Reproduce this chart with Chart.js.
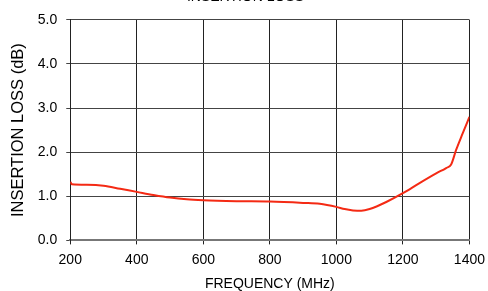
<!DOCTYPE html>
<html>
<head>
<meta charset="utf-8">
<script src="https://cdn.jsdelivr.net/npm/chart.js@4"></script>
<style>
  html, body { margin: 0; padding: 0; background: #fff; overflow: hidden; }
  #wrap { position: relative; width: 492px; height: 304px; margin-top: -11px; }
</style>
</head>
<body>
<div id="wrap"><canvas id="grafico"></canvas></div>
<script>
// frequency in MHz, insertion loss in dB
const frequency = [200, 205, 250, 300, 350, 400, 450, 500, 550, 600, 700, 800, 900, 950, 1000, 1025, 1050, 1075, 1100, 1150, 1200, 1250, 1300, 1330, 1345, 1360, 1380, 1400];
const loss = [1.33, 1.27, 1.26, 1.24, 1.17, 1.10, 1.03, 0.97, 0.93, 0.91, 0.89, 0.88, 0.85, 0.83, 0.76, 0.71, 0.68, 0.67, 0.71, 0.87, 1.07, 1.30, 1.52, 1.64, 1.72, 2.05, 2.43, 2.80];
const xTicks = [200, 400, 600, 800, 1000, 1200, 1400];
const yTicks = [0, 1, 2, 3, 4, 5];

const family = 'Liberation Sans, Arial, sans-serif';
const tickFont = { family: family, size: 14 };

const ctx = document.getElementById('grafico').getContext('2d');
new Chart(ctx, {
    type: 'line',
    data: {
        datasets: [{
            label: 'Insertion loss',
            data: frequency.map((f, i) => ({ x: f, y: loss[i] })),
            borderColor: '#f42a14',
            borderWidth: 2,
            pointRadius: 0,
            cubicInterpolationMode: 'monotone',
            fill: false
        }]
    },
    options: {
        responsive: true,
        maintainAspectRatio: false,
        animation: false,
        layout: { padding: { left: 9, right: 10, top: 0, bottom: 0 } },
        plugins: {
            legend: { display: false },
            tooltip: { enabled: false },
            title: {
                display: true,
                text: 'INSERTION LOSS',
                color: '#000',
                font: { family: family, size: 14, weight: 'normal' },
                padding: { top: 0, bottom: 14 }
            }
        },
        scales: {
            x: {
                type: 'linear',
                min: 200,
                max: 1400,
                afterBuildTicks: axis => { axis.ticks = xTicks.map(v => ({ value: v })); },
                ticks: { color: '#000', font: tickFont, padding: 7, maxRotation: 0, callback: v => String(v) },
                grid: { color: '#222', tickLength: 4, lineWidth: 1 },
                border: { color: '#777', width: 2 },
                title: { display: true, text: 'FREQUENCY (MHz)', color: '#000', font: { family: family, size: 14 }, padding: { top: 1, bottom: 0 } }
            },
            y: {
                min: 0,
                max: 5,
                afterBuildTicks: axis => { axis.ticks = yTicks.map(v => ({ value: v })); },
                ticks: { color: '#000', font: tickFont, padding: 9, callback: v => v.toFixed(1) },
                grid: { color: '#444', tickLength: 4, lineWidth: 1 },
                border: { color: '#222', width: 1 },
                title: { display: true, text: 'INSERTION LOSS (dB)', color: '#000', font: { family: family, size: 16.5 }, padding: { top: 0, bottom: 0 } }
            }
        }
    }
});
</script>
</body>
</html>
